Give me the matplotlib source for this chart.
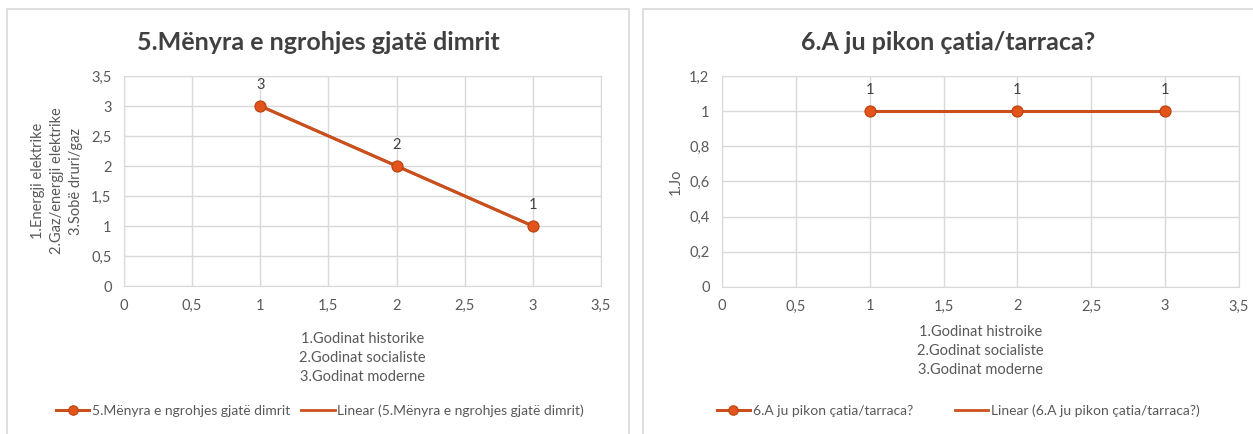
import numpy as np
import matplotlib
matplotlib.use('Agg')
import matplotlib.pyplot as plt
from matplotlib.ticker import FuncFormatter, MultipleLocator
from matplotlib.patches import Rectangle

plt.rcParams['font.family'] = ['Lato', 'DejaVu Sans']

# data
building = [1, 2, 3]          # 1.historike 2.socialiste 3.moderne
heating = [3, 2, 1]           # 5.Mënyra e ngrohjes gjatë dimrit
roof_leak = [1, 1, 1]         # 6.A ju pikon çatia/tarraca?

title_left = '5.Mënyra e ngrohjes gjatë dimrit'
title_right = '6.A ju pikon çatia/tarraca?'
xlab_left = '1.Godinat historike\n2.Godinat socialiste\n3.Godinat moderne'
xlab_right = '1.Godinat histroike\n2.Godinat socialiste\n3.Godinat moderne'
ylab_left = '1.Energji elektrike\n2.Gaz/energji elektrike\n3.Sobë druri/gaz'
ylab_right = '1.Jo'

line_col = '#C9501C'
marker_col = '#E2541B'
grid_col = '#D9D9D9'
tick_col = '#595959'
title_col = '#404040'


def comma(v, pos):
    s = ('%g' % round(v, 2))
    return s.replace('.', ',')


fig = plt.figure(figsize=(12.53, 4.34), dpi=100)
W, H = 1253, 434

# panel frames (Excel chart borders)
fig.patches.append(Rectangle((7 / W, -0.1), (629 - 7) / W, 1.1 - 9 / H,
                             transform=fig.transFigure, fill=False,
                             edgecolor=grid_col, lw=1.2))
fig.patches.append(Rectangle((643 / W, -0.1), 0.6, 1.1 - 9 / H,
                             transform=fig.transFigure, fill=False,
                             edgecolor=grid_col, lw=1.2))

ax1 = fig.add_axes([124 / W, 1 - 286 / H, (601 - 124) / W, (286 - 76) / H])
ax2 = fig.add_axes([722 / W, 1 - 287 / H, (1239 - 722) / W, (287 - 76) / H])


def draw(ax, y, ymax, ystep, series_name, xlab, ylab, xpad, ypad):
    ax.plot(building, y, color=line_col, lw=2.2, marker='o', ms=8,
            markerfacecolor=marker_col, markeredgecolor='#B8420F',
            markeredgewidth=0.8, zorder=3, label=series_name)
    # linear trendline
    k, b = np.polyfit(building, y, 1)
    xs = np.array([building[0], building[-1]])
    ax.plot(xs, k * xs + b, color=line_col, lw=2.0, zorder=2,
            label='Linear (' + series_name + ')')
    for xi, yi in zip(building, y):
        ax.annotate(str(yi), (xi, yi), xytext=(0, 10), textcoords='offset points',
                    ha='center', va='bottom', fontsize=10.5, color=title_col)
    ax.set_xlim(0, 3.5)
    ax.set_ylim(0, ymax)
    ax.xaxis.set_major_locator(MultipleLocator(0.5))
    ax.yaxis.set_major_locator(MultipleLocator(ystep))
    ax.xaxis.set_major_formatter(FuncFormatter(comma))
    ax.yaxis.set_major_formatter(FuncFormatter(comma))
    ax.grid(True, color=grid_col, lw=1.0)
    ax.set_axisbelow(True)
    for sp in ax.spines.values():
        sp.set_color(grid_col)
    ax.tick_params(length=0, colors=tick_col, labelsize=10.5, pad=9)
    ax.set_xlabel(xlab, fontsize=10.5, color=tick_col, linespacing=1.45, labelpad=xpad)
    ax.set_ylabel(ylab, fontsize=10.5, color=tick_col, linespacing=1.45, labelpad=ypad)


draw(ax1, heating, 3.5, 0.5, title_left, xlab_left, ylab_left, 14, 6)
draw(ax2, roof_leak, 1.2, 0.2, title_right, xlab_right, ylab_right, 8, 5)

fig.text(318 / W, 1 - 42 / H, title_left, ha='center', va='center',
         fontsize=18, fontweight='bold', color=title_col)
fig.text(948 / W, 1 - 42 / H, title_right, ha='center', va='center',
         fontsize=18, fontweight='bold', color=title_col)

leg_kw = dict(loc='center', ncol=2, frameon=False, fontsize=10,
              labelcolor=tick_col, handlelength=2.4, handletextpad=0.2,
              markerscale=0.85, bbox_transform=fig.transFigure)
ax1.legend(bbox_to_anchor=(320 / W, 1 - 411 / H), columnspacing=0.8, **leg_kw)
ax2.legend(bbox_to_anchor=(958 / W, 1 - 411 / H), columnspacing=3.0, **leg_kw)

fig.savefig('out.png', dpi=100, facecolor='white')
